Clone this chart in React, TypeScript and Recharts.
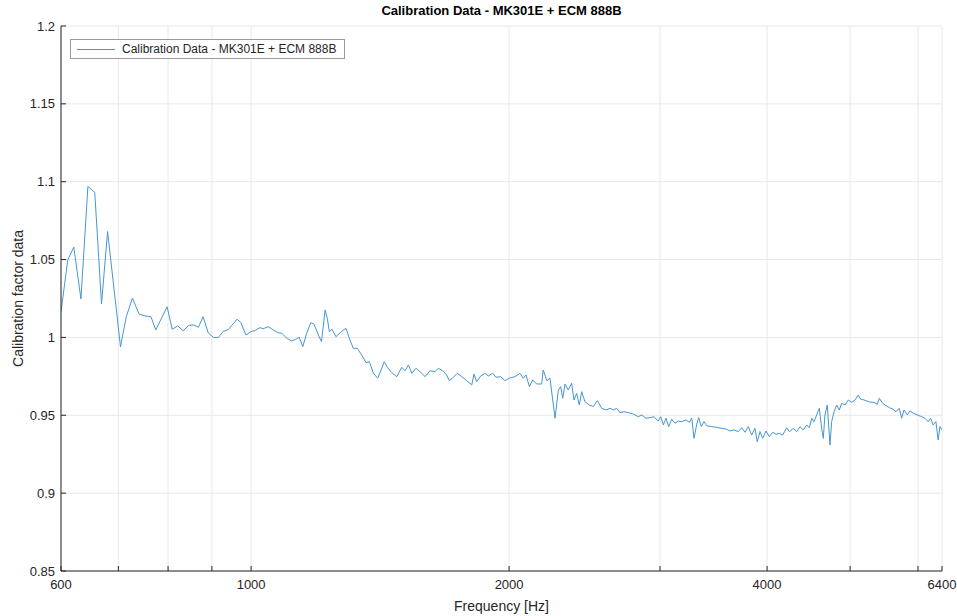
import React from 'react';
import { LineChart, Line, XAxis, YAxis, CartesianGrid, Legend, Label } from 'recharts';

// frequency (Hz) and calibration factor
const frequencies = [
    600, 611, 621, 633, 645, 657, 669, 680, 704, 715, 727, 740, 752, 764, 774, 798, 809, 821, 833, 846,
    857, 868, 879, 891, 904, 916, 927, 941, 963, 973, 986, 1002, 1010, 1024, 1033, 1047, 1061, 1076, 1086, 1100,
    1115, 1128, 1138, 1149, 1161, 1174, 1184, 1198, 1208, 1220, 1227, 1234, 1243, 1256, 1270, 1290, 1304, 1316, 1330, 1346,
    1362, 1374, 1389, 1405, 1418, 1430, 1442, 1459, 1479, 1499, 1512, 1526, 1540, 1557, 1574, 1596, 1617, 1639, 1654, 1673,
    1691, 1703, 1722, 1740, 1761, 1785, 1809, 1820, 1833, 1853, 1875, 1891, 1914, 1931, 1955, 1978, 2001, 2032, 2059, 2078,
    2093, 2112, 2131, 2154, 2183, 2192, 2213, 2232, 2263, 2283, 2297, 2310, 2324, 2345, 2366, 2381, 2398, 2415, 2431, 2452,
    2481, 2508, 2535, 2565, 2595, 2623, 2646, 2670, 2694, 2723, 2755, 2792, 2830, 2856, 2889, 2920, 2952, 2986, 3006, 3027,
    3049, 3071, 3096, 3123, 3151, 3180, 3217, 3246, 3267, 3287, 3311, 3329, 3352, 3376, 3401, 3447, 3494, 3541, 3582, 3621,
    3660, 3702, 3736, 3770, 3803, 3838, 3872, 3896, 3925, 3953, 3988, 4024, 4061, 4097, 4134, 4171, 4217, 4246, 4292, 4331,
    4370, 4409, 4449, 4481, 4510, 4537, 4570, 4603, 4632, 4652, 4673, 4702, 4737, 4758, 4788, 4823, 4857, 4888, 4932, 4975,
    5021, 5066, 5111, 5144, 5180, 5228, 5274, 5331, 5379, 5408, 5457, 5506, 5555, 5606, 5656, 5706, 5743, 5779, 5830, 5873,
    5925, 5989, 6059, 6113, 6167, 6207, 6251, 6296, 6335, 6364, 6400
];

const calibration = [
    1.0165, 1.0497, 1.058, 1.0247, 1.097, 1.093, 1.0215, 1.068, 0.994, 1.0133, 1.0253, 1.015, 1.0138, 1.0133, 1.0048, 1.0197, 1.0052, 1.0074, 1.0043, 1.0078,
    1.008, 1.0065, 1.0133, 1.003, 1.0, 1.0, 1.0037, 1.0052, 1.0117, 1.0095, 1.0016, 1.004, 1.0043, 1.0063, 1.0056, 1.0069, 1.0048, 1.003, 1.0027, 0.9995,
    0.9977, 0.9988, 1.0001, 0.9941, 1.0027, 1.0095, 1.0086, 1.0016, 0.9973, 1.0176, 1.0123, 1.0037, 1.0052, 1.0005, 1.003, 1.0059, 0.9984, 0.993, 0.993, 0.9887,
    0.9838, 0.9844, 0.977, 0.9738, 0.979, 0.9844, 0.9808, 0.9774, 0.9748, 0.9808, 0.9786, 0.9823, 0.977, 0.9802, 0.978, 0.9748, 0.9786, 0.978, 0.9802, 0.9786,
    0.9759, 0.9722, 0.9744, 0.977, 0.9748, 0.9722, 0.9695, 0.9765, 0.9716, 0.9752, 0.977, 0.9752, 0.977, 0.9744, 0.9748, 0.9722, 0.9738, 0.9748, 0.977, 0.9738,
    0.9759, 0.9684, 0.9727, 0.9701, 0.9701, 0.9791, 0.9722, 0.9738, 0.9481, 0.9662, 0.9684, 0.9609, 0.9701, 0.9662, 0.9706, 0.9598, 0.9641, 0.9566, 0.9652, 0.9587,
    0.9566, 0.9556, 0.9594, 0.9545, 0.9534, 0.9545, 0.9534, 0.9545, 0.9517, 0.9523, 0.9517, 0.9508, 0.9491, 0.9502, 0.9481, 0.9485, 0.9491, 0.9463, 0.9491, 0.9438,
    0.9481, 0.9427, 0.9476, 0.9449, 0.9463, 0.9459, 0.947, 0.9455, 0.9481, 0.9352, 0.9442, 0.9485, 0.9427, 0.9459, 0.9433, 0.9427, 0.9423, 0.9416, 0.9412, 0.9399,
    0.9406, 0.9395, 0.942, 0.9391, 0.9427, 0.9373, 0.9416, 0.933, 0.9395, 0.9352, 0.9399, 0.9363, 0.9391, 0.9378, 0.9384, 0.9373, 0.942, 0.9395, 0.9416, 0.9395,
    0.9427, 0.9406, 0.9438, 0.942, 0.9481, 0.9459, 0.9502, 0.9545, 0.9416, 0.9352, 0.9502, 0.9566, 0.9309, 0.9459, 0.9523, 0.9566, 0.9534, 0.9577, 0.9566, 0.9598,
    0.9583, 0.9598, 0.963, 0.9603, 0.96, 0.9592, 0.9585, 0.9583, 0.957, 0.9609, 0.9577, 0.9562, 0.9549, 0.954, 0.9523, 0.9545, 0.9481, 0.9534, 0.9502, 0.9528,
    0.9513, 0.9502, 0.9491, 0.9481, 0.9459, 0.9481, 0.9438, 0.9459, 0.9341, 0.9427, 0.9406
];

const xTicks = [600, 700, 800, 900, 1000, 2000, 3000, 4000, 5000, 6000, 6400];
const xLabelled = [600, 1000, 2000, 4000, 6400];
const yTicks = [0.85, 0.9, 0.95, 1, 1.05, 1.1, 1.15, 1.2];

const seriesName = 'Calibration Data - MK301E + ECM 888B';
const lineColor = '#4796d1';
const ink = '#262626';
const font = '"Liberation Sans", Arial, Helvetica, sans-serif';

const rows = frequencies.map((f, i) => ({ freq: f, factor: calibration[i] }));

const LegendBox = () => (
    <div style={{
        display: 'flex', alignItems: 'center', background: '#fff', border: '1px solid #9a9a9a',
        padding: '2px 8px 2px 6px', fontSize: 12, color: ink, fontFamily: font, whiteSpace: 'nowrap'
    }}>
        <span style={{ display: 'inline-block', width: 38, height: 0, borderTop: `1px solid ${lineColor}`, marginRight: 7 }} />
        {seriesName}
    </div>
);

export default function App() {
    return (
        <div style={{ position: 'absolute', left: 0, top: 0, width: 957, height: 616, background: '#fff', fontFamily: font }}>
            <div style={{
                position: 'absolute', left: 61, top: 3, width: 881, textAlign: 'center',
                fontWeight: 'bold', fontSize: 13, color: '#000'
            }}>
                {seriesName}
            </div>
            <LineChart width={957} height={616} data={rows} margin={{ top: 26, right: 15, bottom: 0, left: 0 }}>
                <CartesianGrid stroke="#e8e8e8" strokeWidth={1} />
                <XAxis
                    dataKey="freq"
                    type="number"
                    scale="log"
                    domain={[600, 6400]}
                    allowDataOverflow
                    ticks={xTicks}
                    interval={0}
                    tickFormatter={(v) => (xLabelled.includes(v) ? String(v) : '')}
                    height={45}
                    stroke={ink}
                    tickSize={-5}
                    tickMargin={14}
                    tick={{ fontSize: 13, fill: ink }}
                >
                    <Label value="Frequency [Hz]" position="insideBottom" offset={5} style={{ fontSize: 14, fill: ink }} />
                </XAxis>
                <XAxis
                    xAxisId="top"
                    orientation="top"
                    dataKey="freq"
                    type="number"
                    scale="log"
                    domain={[600, 6400]}
                    allowDataOverflow
                    ticks={xTicks}
                    interval={0}
                    tickFormatter={() => ''}
                    height={0}
                    stroke={ink}
                    tickSize={-5}
                />
                <YAxis
                    type="number"
                    domain={[0.85, 1.2]}
                    ticks={yTicks}
                    interval={0}
                    tickFormatter={(v) => String(+Number(v).toFixed(2))}
                    width={61}
                    stroke={ink}
                    tickSize={-5}
                    tickMargin={11}
                    tick={{ fontSize: 13, fill: ink }}
                >
                    <Label
                        content={({ viewBox }: any) => {
                            const cx = viewBox.x + 18;
                            const cy = viewBox.y + viewBox.height / 2;
                            return (
                                <text x={cx} y={cy} transform={`rotate(-90 ${cx} ${cy})`} textAnchor="middle"
                                    dominantBaseline="central" fontSize={14} fill={ink}>
                                    Calibration factor data
                                </text>
                            );
                        }}
                    />
                </YAxis>
                <YAxis
                    yAxisId="right"
                    orientation="right"
                    type="number"
                    domain={[0.85, 1.2]}
                    ticks={yTicks}
                    interval={0}
                    tickFormatter={() => ''}
                    width={0}
                    stroke={ink}
                    tickSize={-5}
                />
                <Legend
                    layout="horizontal"
                    verticalAlign="middle"
                    align="center"
                    content={() => <LegendBox />}
                    wrapperStyle={{ left: 70, top: 39, width: 'auto' }}
                />
                <Line
                    type="linear"
                    dataKey="factor"
                    name={seriesName}
                    stroke={lineColor}
                    strokeWidth={1}
                    dot={false}
                    activeDot={false}
                    isAnimationActive={false}
                />
            </LineChart>
        </div>
    );
}
